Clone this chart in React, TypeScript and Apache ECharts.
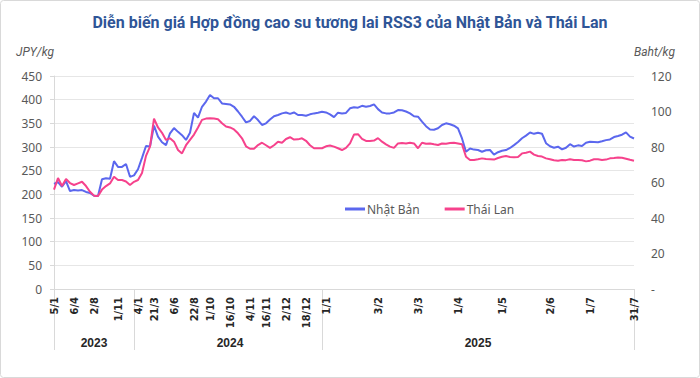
import React, { useEffect, useRef } from "react";
import * as echarts from "echarts";

const titleText = "Diễn biến giá Hợp đồng cao su tương lai RSS3 của Nhật Bản và Thái Lan";
const seriesNames = ["Nhật Bản", "Thái Lan"];

// Nhật Bản (JPY/kg), left axis
const japanValues = [
  222, 226, 216, 228, 207, 209, 208, 209, 205, 203,
  197, 196.5, 232, 234, 233, 270, 258, 258, 264, 237,
  240, 253, 277, 302, 301, 345, 322, 310, 304, 329,
  340, 332, 325, 315, 330, 372, 362, 385, 396, 410,
  403, 403, 392, 391, 390, 385, 375, 364, 352, 355,
  365, 357, 346.5, 350, 358, 365, 367.6, 371, 373, 370,
  373, 367.6, 367.6, 366, 369, 371, 372.5, 374.6, 373, 369,
  363, 372.5, 371, 372, 381.7, 384, 383, 387, 385, 386.6,
  390, 380, 373, 371, 371, 373, 378, 377.5, 375, 371,
  365, 364, 353.5, 344, 337, 336.5, 339.5, 346.5, 350, 348,
  345, 339.5, 318, 290, 297, 294.5, 293.7, 290, 293, 293.7,
  284, 289, 292, 293.5, 298, 304, 310.5, 318.5, 324, 330.5,
  327.8, 330, 328, 308, 301.5, 298.5, 300.7, 295, 298.5, 306,
  301, 303.5, 302, 309, 311, 310.5, 310, 312, 314.5, 316,
  321, 323.4, 326, 331, 322, 318,
];

// Thái Lan (Baht/kg), right axis
const thaiValues = [
  56, 62.5, 58, 62, 59.7, 58.6, 59.5, 60.4, 58, 54.8,
  52.6, 52.4, 56, 58, 59.5, 63.3, 61.4, 61.4, 60.6, 58.6,
  60.4, 61.4, 65.4, 75, 80.2, 96, 91, 88, 84, 84.9,
  83, 78.3, 76.4, 81, 84, 87, 91, 95.3, 96, 96.2,
  96, 95.6, 93.4, 91.6, 91, 89.9, 87.7, 84.9, 80.4, 79,
  79, 81.1, 82.4, 81, 79.5, 81, 83, 82.4, 84.5, 85.5,
  84.2, 84.3, 84.9, 83.5, 81, 79.3, 79.3, 79.3, 80.4, 80.8,
  80.2, 79.3, 78.3, 79.5, 82, 87, 87.2, 84.6, 83.4, 83.4,
  83.6, 85, 83, 81.5, 80.2, 79.5, 82, 82.2, 82, 82.4,
  82, 79.3, 82.4, 81.8, 82, 81.5, 81.1, 82, 81.8, 82.2,
  82.4, 82, 81.5, 74.5, 72.7, 72.7, 73.1, 73.6, 73.2, 73.1,
  72.9, 73.8, 74.5, 74.9, 74.4, 74.2, 74.4, 76.4, 76.8, 77.4,
  75.7, 74.9, 74.6, 73.6, 73.1, 72.5, 72.3, 72.7, 72.6, 73.1,
  72.7, 72.7, 72.5, 71.9, 72.3, 73.1, 73.1, 72.7, 72.9, 73.6,
  73.8, 74.1, 73.9, 73.4, 72.8, 72.3,
];

// date tick labels and the sample index each sits on
const tickLabels = ["5/1", "6/4", "2/8", "1/11", "4/1", "21/3", "6/6", "22/8", "1/10", "16/10", "4/11", "16/11", "2/12", "18/12", "1/1", "3/2", "3/3", "1/4", "1/5", "2/6", "1/7", "31/7"];
const tickIndex = [0, 5, 10, 16, 21, 25, 30, 35, 39, 44, 49, 53, 58, 63, 68, 81, 91, 101, 112, 124, 134, 145];

// year groups
const yearLabels = ["2023", "2024", "2025"];
const yearBounds = [0, 20, 67, 145];
const yearCenters = [10, 44, 106];

const leftTicks = { min: 0, max: 450, interval: 50 };
const rightTicks = { min: 0, max: 120, interval: 20 };

export default function App() {
  const ref = useRef<HTMLDivElement>(null);
  useEffect(() => {
    if (!ref.current) return;
    const chart = echarts.init(ref.current, undefined, { renderer: "svg" });
    const categories = japanValues.map((_, i) => String(i));
    const labelMap: Record<number, string> = {};
    tickIndex.forEach((idx, k) => (labelMap[idx] = tickLabels[k]));
    const yearMap: Record<number, string> = {};
    yearCenters.forEach((idx, k) => (yearMap[idx] = yearLabels[k]));
    const gray = "#595959";
    const font = "Roboto, 'Noto Sans', sans-serif";

    chart.setOption({
      animation: false,
      backgroundColor: "#ffffff",
      title: {
        text: titleText,
        left: "center",
        top: 9,
        textStyle: { color: "#2F5597", fontSize: 16, fontWeight: "bold", fontFamily: font },
      },
      graphic: [
        {
          type: "rect",
          shape: { x: 0.5, y: 0.5, width: 699, height: 377, r: 3 },
          style: { fill: "none", stroke: "#d9d9d9", lineWidth: 1 },
          silent: true,
        },
      ],
      legend: {
        left: 340,
        top: 198,
        itemGap: 25,
        itemWidth: 20,
        itemHeight: 3,
        icon: "rect",
        textStyle: { color: gray, fontSize: 12, fontFamily: "'Noto Sans', sans-serif", padding: [0, 0, 0, -3] },
        data: seriesNames,
      },
      grid: { left: 54, right: 66, top: 76, bottom: 89, containLabel: false },
      xAxis: [
        {
          type: "category",
          data: categories,
          boundaryGap: false,
          axisLine: { show: true, lineStyle: { color: "#d9d9d9", width: 1 } },
          axisTick: {
            show: true,
            length: 61,
            interval: (index: number) => yearBounds.includes(index),
            lineStyle: { color: "#d9d9d9" },
          },
          axisLabel: {
            interval: (index: number) => tickIndex.includes(index),
            formatter: (v: string) => labelMap[Number(v)] ?? "",
            rotate: 90,
            margin: 8,
            color: "#262626",
            fontSize: 11,
            fontWeight: "bold",
            fontFamily: "'Liberation Sans Narrow', 'DejaVu Sans Condensed', Roboto, sans-serif",
          },
          splitLine: { show: false },
        },
        {
          type: "category",
          data: categories,
          boundaryGap: false,
          position: "bottom",
          axisLine: { show: false },
          axisTick: { show: false },
          axisLabel: {
            interval: (index: number) => yearCenters.includes(index),
            formatter: (v: string) => yearMap[Number(v)] ?? "",
            margin: 48,
            color: "#262626",
            fontSize: 12,
            fontWeight: "bold",
            fontFamily: "'Liberation Sans', sans-serif",
          },
          splitLine: { show: false },
        },
      ],
      yAxis: [
        {
          type: "value",
          ...leftTicks,
          name: "JPY/kg",
          nameLocation: "end",
          nameGap: 24,
          nameTextStyle: { color: gray, fontSize: 12, fontStyle: "italic", align: "right", verticalAlign: "middle", fontFamily: font },
          axisLine: { show: true, lineStyle: { color: "#d9d9d9" } },
          axisTick: { show: true, length: 4, lineStyle: { color: "#d9d9d9" } },
          axisLabel: { color: gray, fontSize: 12, margin: 12, fontFamily: "'Noto Sans', sans-serif" },
          splitLine: { show: true, lineStyle: { color: "#e6e6e6" } },
        },
        {
          type: "value",
          ...rightTicks,
          position: "right",
          name: "Baht/kg",
          nameLocation: "end",
          nameGap: 24,
          nameTextStyle: { color: gray, fontSize: 12, fontStyle: "italic", align: "left", verticalAlign: "middle", fontFamily: font },
          axisLine: { show: false },
          axisTick: { show: false },
          axisLabel: {
            color: gray,
            fontSize: 12,
            margin: 17,
            fontFamily: "'Noto Sans', sans-serif",
            formatter: (v: number) => (v === 0 ? "-" : String(v)),
          },
          splitLine: { show: false },
        },
      ],
      series: [
        {
          name: seriesNames[0],
          type: "line",
          data: japanValues,
          yAxisIndex: 0,
          xAxisIndex: 0,
          showSymbol: false,
          color: "#5B67EE",
          lineStyle: { width: 2, color: "#5B67EE" },
        },
        {
          name: seriesNames[1],
          type: "line",
          data: thaiValues,
          yAxisIndex: 1,
          xAxisIndex: 0,
          showSymbol: false,
          color: "#F6428C",
          lineStyle: { width: 2, color: "#F6428C" },
        },
      ],
    });
    return () => chart.dispose();
  }, []);
  return <div ref={ref} style={{ position: "absolute", left: 0, top: 0, width: 700, height: 378 }} />;
}
